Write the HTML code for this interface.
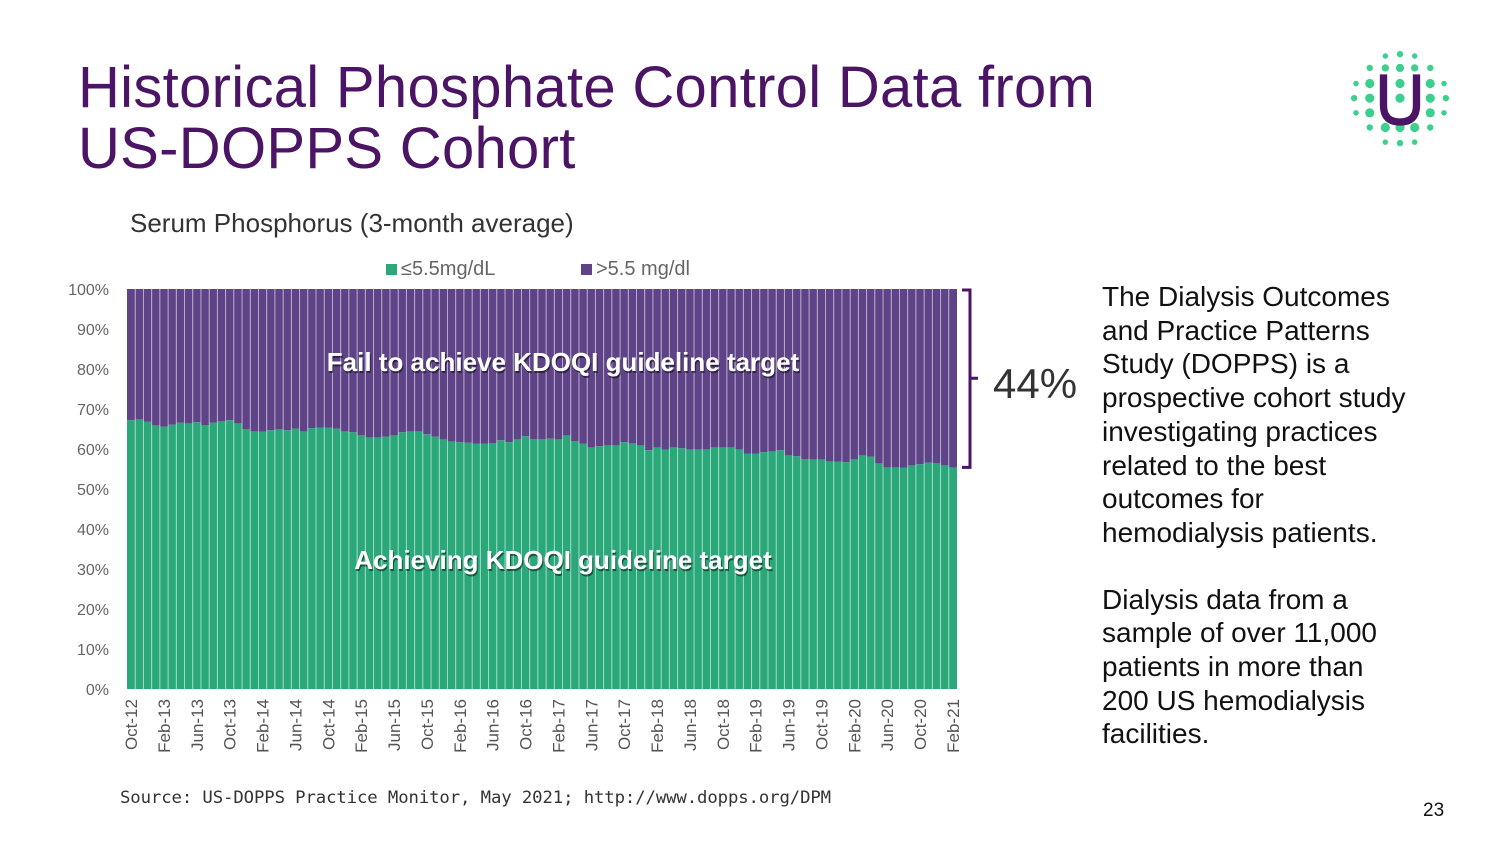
<!DOCTYPE html>
<html><head><meta charset="utf-8"><style>
body{margin:0;width:1500px;height:843px;background:#fff;font-family:"Liberation Sans",sans-serif;position:relative;overflow:hidden}
.t{position:absolute}
</style></head><body>
<div class="t" style="left:78px;top:57px;font-size:58px;line-height:61px;color:#4b1464;letter-spacing:0.3px">Historical Phosphate Control Data from<br>US-DOPPS Cohort</div>
<svg class="t" style="left:1345px;top:45px" width="110" height="110" viewBox="0 0 120 120">
<g fill="#3ccf8e">
<circle cx="44" cy="12" r="3"/><circle cx="60" cy="10" r="3.5"/><circle cx="76" cy="12" r="3"/>
<circle cx="27" cy="25" r="3.5"/><circle cx="44" cy="25" r="4"/><circle cx="60" cy="25" r="4.5"/><circle cx="76" cy="25" r="4"/><circle cx="93" cy="25" r="3.5"/>
<circle cx="12" cy="42" r="3"/><circle cx="27" cy="42" r="5"/><circle cx="60" cy="42" r="5"/><circle cx="93" cy="42" r="5"/><circle cx="108" cy="42" r="3"/>
<circle cx="10" cy="58" r="3.5"/><circle cx="27" cy="58" r="5"/><circle cx="60" cy="58" r="5"/><circle cx="93" cy="58" r="5"/><circle cx="110" cy="58" r="3.5"/>
<circle cx="12" cy="74" r="3"/><circle cx="27" cy="74" r="5"/><circle cx="93" cy="74" r="5"/><circle cx="108" cy="74" r="3"/>
<circle cx="27" cy="90" r="3.5"/><circle cx="44" cy="90" r="5"/><circle cx="60" cy="90" r="5"/><circle cx="76" cy="90" r="5"/><circle cx="93" cy="90" r="3.5"/>
<circle cx="44" cy="106" r="3"/><circle cx="60" cy="107" r="3.5"/><circle cx="76" cy="106" r="3"/>
</g>
<path d="M42 32 V66 Q42 84 60 84 Q78 84 78 66 V32" fill="none" stroke="#4b1464" stroke-width="8"/>
</svg>
<div class="t" style="left:130px;top:208px;font-size:26px;color:#333">Serum Phosphorus (3-month average)</div>
<div class="t" style="left:386px;top:258px;font-size:20px;color:#666"><span style="display:inline-block;width:11px;height:11px;background:#2aa87a;margin-right:4px"></span>≤5.5mg/dL</div>
<div class="t" style="left:581px;top:258px;font-size:20px;color:#666"><span style="display:inline-block;width:11px;height:11px;background:#5e4387;margin-right:4px"></span>&gt;5.5 mg/dl</div>
<svg class="t" id="chart" style="left:0;top:0" width="1500" height="843"></svg>
<div class="t" style="left:993px;top:360px;font-size:42px;color:#333">44%</div>
<div class="t" style="left:1102px;top:280px;font-size:28px;line-height:33.7px;color:#111">The Dialysis Outcomes<br>and Practice Patterns<br>Study (DOPPS) is a<br>prospective cohort study<br>investigating practices<br>related to the best<br>outcomes for<br>hemodialysis patients.<br><div style="height:33px"></div>Dialysis data from a<br>sample of over 11,000<br>patients in more than<br>200 US hemodialysis<br>facilities.</div>
<div class="t" style="left:120px;top:788px;font-size:17.3px;color:#333;font-family:'DejaVu Sans Mono','Liberation Mono',monospace;letter-spacing:-0.1px">Source: US-DOPPS Practice Monitor, May 2021; http://www.dopps.org/DPM</div>
<div class="t" style="left:1423px;top:800px;font-size:19px;color:#111">23</div>
<script>
const lowValues=[67.2,67.4,66.8,65.9,65.6,66.1,66.6,66.4,66.7,66.0,66.6,66.9,67.2,66.4,65.0,64.4,64.3,64.7,64.9,64.7,65.1,64.4,65.2,65.3,65.3,65.1,64.4,64.2,63.5,62.9,62.9,63.1,63.4,64.2,64.4,64.4,63.7,63.1,62.4,61.9,61.7,61.6,61.3,61.3,61.5,62.2,61.7,62.4,63.2,62.5,62.5,62.6,62.4,63.4,62.0,61.3,60.4,60.7,60.9,60.9,61.7,61.4,60.9,59.7,60.4,59.8,60.4,60.2,59.9,59.9,59.9,60.4,60.4,60.4,59.9,58.8,58.8,59.2,59.4,59.7,58.4,58.2,57.5,57.4,57.4,56.9,56.8,56.7,57.4,58.4,58.1,56.4,55.4,55.4,55.3,55.9,56.2,56.6,56.5,55.9,55.4];
const tickLabels=["0%","10%","20%","30%","40%","50%","60%","70%","80%","90%","100%"];
const tickValues=[0,10,20,30,40,50,60,70,80,90,100];
const monthNames=["Jan","Feb","Mar","Apr","May","Jun","Jul","Aug","Sep","Oct","Nov","Dec"];
const NS="http://www.w3.org/2000/svg";
const svg=document.getElementById('chart');
const X0=127,X1=957,Y0=689,Y1=289;
const n=lowValues.length,bw=(X1-X0)/n;
const y=v=>Y0-(v/100)*(Y0-Y1);
const x=i=>X0+i*bw;
function mk(t,a){const e=document.createElementNS(NS,t);for(const k in a)e.setAttribute(k,a[k]);svg.appendChild(e);return e;}
lowValues.forEach((v,i)=>{
 const g=mk('rect',{x:x(i),y:y(v),width:bw,height:Y0-y(v),fill:'#2aa87a'});
 
 
 const p=mk('rect',{x:x(i),y:Y1,width:bw,height:y(v)-Y1,fill:'#5e4387'});
 
 
 if(i>0){const l=mk('line',{x1:x(i),x2:x(i),y1:Y1,y2:Y0,stroke:'rgba(255,255,255,0.55)','stroke-width':1});
 
 }
});
tickValues.forEach((v,i)=>{
 const t=mk('text',{x:109,y:y(v)+6,'text-anchor':'end','font-size':16,fill:'#666','font-family':'Liberation Sans'});
 t.textContent=tickLabels[i];
 
 
});
for(let i=0;i<n;i+=4){
 const m=(9+i)%12,yr=12+Math.floor((9+i)/12);
 const cx=x(i)+bw/2+6;
 const t=mk('text',{x:cx,y:699,'text-anchor':'end','font-size':17,fill:'#555','font-family':'Liberation Sans',transform:`rotate(-90 ${cx} 699)`});
 t.textContent=monthNames[m]+'-'+yr;
 
 
}
const lastV=lowValues[n-1];
const br=mk('path',{d:`M962 ${Y1+1} H970 V${y(lastV)} H962 M970 ${(Y1+y(lastV))/2} H978`,fill:'none',stroke:'#4b1464','stroke-width':3});


[['Fail to achieve KDOQI guideline target',371,'fail-label'],['Achieving KDOQI guideline target',569,'achieve-label']].forEach(a=>{
 const s=mk('text',{x:564,y:a[1]+2,'text-anchor':'middle','font-size':26,'font-weight':'bold',fill:'rgba(0,0,0,0.5)','font-family':'Liberation Sans'});
 s.textContent=a[0];
 
 
 const t=mk('text',{x:563,y:a[1],'text-anchor':'middle','font-size':26,'font-weight':'bold',fill:'#fff','font-family':'Liberation Sans'});
 t.textContent=a[0];
 
 
});
</script>
</body></html>
